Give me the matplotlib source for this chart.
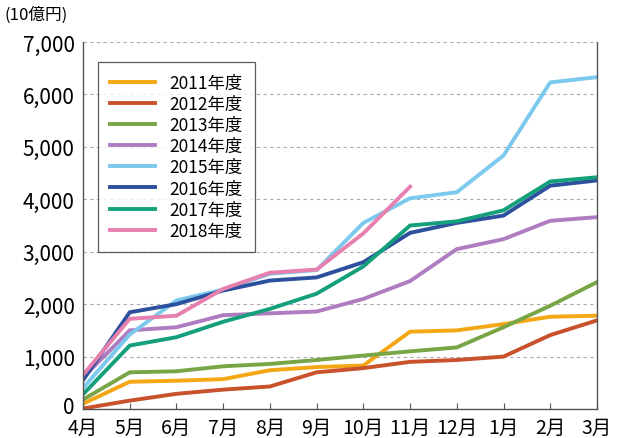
import matplotlib
matplotlib.use("Agg")
import matplotlib.pyplot as plt
from matplotlib.transforms import ScaledTranslation

plt.rcParams['font.family'] = ['Noto Sans CJK JP', 'DejaVu Sans']

months = ['4月', '5月', '6月', '7月', '8月', '9月', '10月', '11月', '12月', '1月', '2月', '3月']
years = ['2011年度', '2012年度', '2013年度', '2014年度', '2015年度', '2016年度', '2017年度', '2018年度']

fy2011 = [100, 520, 540, 570, 740, 800, 830, 1475, 1500, 1620, 1760, 1780]
fy2012 = [10, 160, 290, 370, 430, 700, 780, 900, 935, 1000, 1410, 1690]
fy2013 = [180, 700, 720, 815, 860, 935, 1020, 1100, 1175, 1560, 1970, 2420]
fy2014 = [600, 1500, 1560, 1790, 1825, 1860, 2100, 2440, 3050, 3240, 3590, 3660]
fy2015 = [400, 1420, 2070, 2280, 2580, 2650, 3550, 4020, 4135, 4835, 6230, 6330]
fy2016 = [550, 1845, 2000, 2260, 2450, 2510, 2800, 3360, 3550, 3690, 4260, 4360]
fy2017 = [280, 1210, 1370, 1665, 1910, 2200, 2720, 3500, 3580, 3790, 4340, 4420]
fy2018 = [650, 1720, 1780, 2290, 2600, 2660, 3350, 4240]

series = [fy2011, fy2012, fy2013, fy2014, fy2015, fy2016, fy2017, fy2018]
colors = ['#f3a714', '#c9512b', '#78a646', '#b07cc1', '#7cc9ee', '#2c4f9e', '#13a07a', '#e680ae']

fig = plt.figure(figsize=(6.17, 4.39), dpi=100)
ax = fig.add_axes([0.1345, 0.066, 0.833, 0.836])

for vals, c, lab in zip(series, colors, years):
    ax.plot(range(len(vals)), vals, color=c, lw=2.8, label=lab, solid_joinstyle='miter')

ax.set_xlim(0, 11)
ax.set_ylim(0, 7000)
ax.set_xticks(range(12))
ax.set_xticklabels(months, fontsize=14)
ax.set_yticks(range(0, 7001, 1000))
ax.set_yticklabels([f'{v:,}' for v in range(0, 7001, 1000)], fontsize=15)
ax.tick_params(axis='x', direction='in', length=4, pad=6, color='#555555')
ax.tick_params(axis='y', length=0, pad=6)
ax.yaxis.grid(True, ls=(0, (3, 3)), color='#aaaaaa', lw=0.8)
ax.spines['top'].set_visible(False)
for s in ['left', 'right', 'bottom']:
    ax.spines[s].set_color('#555555')
    ax.spines[s].set_linewidth(1.0)

# nudge the "0" label up so it clears the "4月" label
zero = ax.get_yticklabels()[0]
zero.set_transform(zero.get_transform() + ScaledTranslation(0, 3 / 72, fig.dpi_scale_trans))

leg = ax.legend(loc='upper left', bbox_to_anchor=(0.012, 0.97), fontsize=12.5,
                frameon=True, fancybox=False, edgecolor='#333333',
                handlelength=2.6, labelspacing=0.18, borderpad=0.7, handletextpad=0.8)
leg.get_frame().set_linewidth(0.9)

fig.text(0.008, 0.985, '(10億円)', fontsize=12, va='top', ha='left')

fig.savefig('out.png', dpi=100)
